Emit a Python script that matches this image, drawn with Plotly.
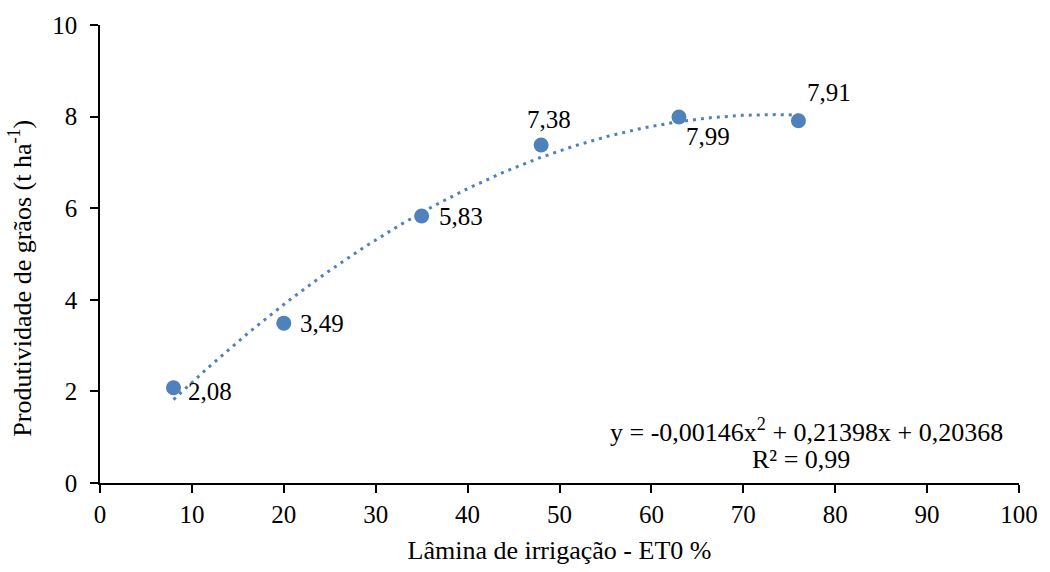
import numpy as np
import plotly.graph_objects as go

x_vals = [8, 20, 35, 48, 63, 76]
y_vals = [2.08, 3.49, 5.83, 7.38, 7.99, 7.91]
labels = ["2,08", "3,49", "5,83", "7,38", "7,99", "7,91"]
coef = [-0.00146, 0.21398, 0.20368]
eq_line1 = "y = -0,00146x<sup>2</sup> + 0,21398x + 0,20368"
eq_line2 = "R² = 0,99"
y_title = "Produtividade de grãos (t ha<sup>-1</sup>)"
x_title = "Lâmina de irrigação - ET0 %"

# label offsets in pixels (xshift, yshift, xanchor)
label_offsets = [(12, -4, "left"), (14, 0, "left"), (15, -1, "left"),
                 (8, 26, "center"), (5, -19, "left"), (7, 28, "left")]

color = "#4F81BD"
font_family = "Liberation Serif"

xt = np.linspace(min(x_vals), max(x_vals), 200)
yt = np.polyval(coef, xt)

fig = go.Figure()
fig.add_trace(go.Scatter(x=xt, y=yt, mode="lines",
                         line=dict(color=color, width=3, dash="3px,5px"),
                         hoverinfo="skip", showlegend=False))
fig.add_trace(go.Scatter(x=x_vals, y=y_vals, mode="markers",
                         marker=dict(color=color, size=15),
                         showlegend=False))

for xv, yv, lab, (dx, dy, xa) in zip(x_vals, y_vals, labels, label_offsets):
    fig.add_annotation(x=xv, y=yv, text=lab, showarrow=False,
                       xanchor=xa, yanchor="middle", xshift=dx, yshift=dy,
                       font=dict(size=25, color="black", family=font_family))

fig.add_annotation(x=0.769, y=0.1145, xref="paper", yref="paper",
                   xanchor="center", yanchor="middle",
                   text=eq_line1, showarrow=False,
                   font=dict(size=26, color="black", family=font_family))
fig.add_annotation(x=0.763, y=0.052, xref="paper", yref="paper",
                   xanchor="center", yanchor="middle",
                   text=eq_line2, showarrow=False,
                   font=dict(size=26, color="black", family=font_family))

# y-axis title placed as a rotated annotation (positioned like the reference)
fig.add_annotation(x=0, y=0.446, xref="paper", yref="paper",
                   xanchor="center", yanchor="middle", xshift=-79,
                   textangle=-90, text=y_title, showarrow=False,
                   font=dict(size=26, color="black", family=font_family))

fig.update_layout(
    width=1050, height=572,
    margin=dict(l=100, r=22, t=25, b=84),
    paper_bgcolor="white", plot_bgcolor="white",
    font=dict(family=font_family, size=25, color="black"),
    xaxis=dict(range=[0, 100], dtick=10, showline=True, linecolor="black", linewidth=1.5,
               ticks="outside", ticklen=8, tickcolor="black", tickwidth=1.5,
               showgrid=False, zeroline=False,
               title=dict(text=x_title, font=dict(size=26), standoff=14),
               tickfont=dict(size=25)),
    yaxis=dict(range=[0, 10], dtick=2, showline=True, linecolor="black", linewidth=1.5,
               ticks="outside", ticklen=8, tickcolor="black", tickwidth=1.5,
               showgrid=False, zeroline=False, ticklabelstandoff=8,
               tickfont=dict(size=25)),
)

fig.write_html("out.html")
